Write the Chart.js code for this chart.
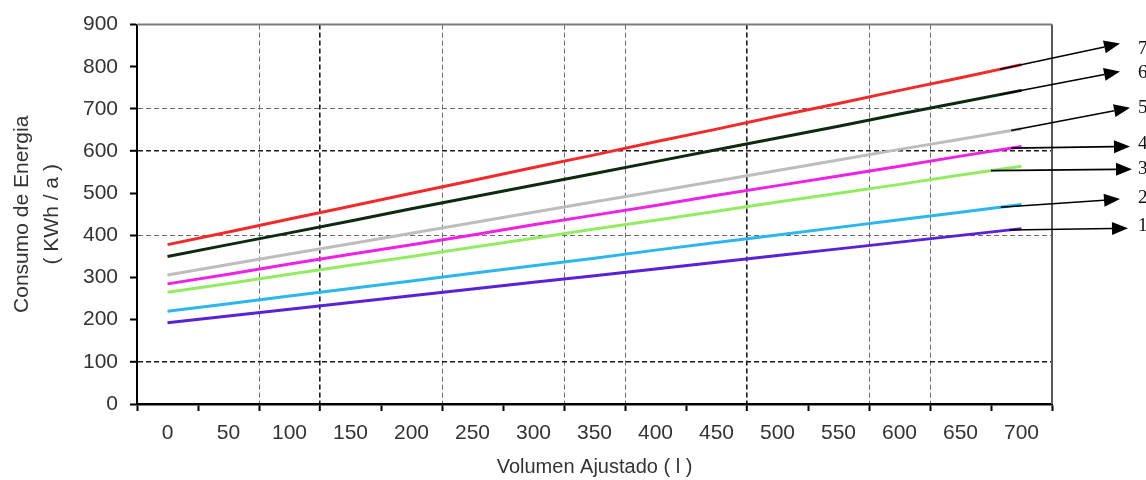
<!DOCTYPE html>
<html>
<head>
<meta charset="utf-8">
<script src="https://cdn.jsdelivr.net/npm/chart.js@4.4.1/dist/chart.umd.min.js"></script>
<style>
  html, body { margin: 0; padding: 0; background: #ffffff; }
  #wrap { width: 1146px; height: 480px; }
</style>
</head>
<body>
<div id="wrap"><canvas id="c" width="1146" height="480"></canvas></div>
<script>
// ---- data ----
const categories = ['0','50','100','150','200','250','300','350','400','450','500','550','600','650','700'];
const seriesNames = ['1','2','3','4','5','6','7'];
const serie1 = [193, 209, 225, 241, 257, 273, 289, 304, 320, 336, 352, 368, 384, 400, 416];
const serie2 = [220, 238, 256, 274, 292, 310, 328, 346, 365, 383, 401, 419, 437, 455, 473];
const serie3 = [265, 286, 308, 329, 350, 372, 393, 415, 436, 457, 479, 500, 521, 543, 564];
const serie4 = [285, 308, 332, 355, 378, 401, 425, 448, 471, 495, 518, 541, 564, 588, 611];
const serie5 = [306, 331, 356, 380, 405, 430, 455, 480, 504, 529, 554, 579, 604, 628, 653];
const serie6 = [350, 378, 406, 434, 463, 491, 519, 547, 575, 603, 631, 659, 688, 716, 744];
const serie7 = [378, 408, 439, 469, 500, 530, 561, 591, 622, 652, 683, 713, 744, 774, 805];
const yTicks = [0, 100, 200, 300, 400, 500, 600, 700, 800, 900];

// ---- styling / annotation placement ----
const seriesColors = ['#5a22d6', '#2bb6ee', '#92ec62', '#ee22e6', '#bdbdbd', '#0c2a0e', '#f42a2a'];
const calloutStartIdx = [13.8, 13.66, 13.5, 13.83, 13.83, 13.65, 13.65];
const calloutTipDx = [76, 68, 80, 78, 78, 68, 68];
const calloutTipVal = [417, 486, 557, 611, 703, 789, 855];
const calloutLabelVal = [423, 489, 558, 617, 703, 785, 843];
const xGridDark = [3, 10];
const xGridLight = [2, 5, 7, 8, 12, 13];
const yGridDark = [100, 600];
const yGridLight = [400, 700];

const allSeries = [serie1, serie2, serie3, serie4, serie5, serie6, serie7];

const framePlugin = {
  id: 'frame',
  beforeDatasetsDraw(chart) {
    const { ctx, chartArea: a } = chart;
    ctx.save();
    ctx.lineWidth = 2;
    ctx.strokeStyle = '#7c7c7c';
    ctx.beginPath();
    ctx.moveTo(a.left, a.top);
    ctx.lineTo(a.right, a.top);
    ctx.stroke();
    ctx.strokeStyle = '#5a5a5a';
    ctx.beginPath();
    ctx.moveTo(a.right, a.top);
    ctx.lineTo(a.right, a.bottom);
    ctx.stroke();
    ctx.restore();
  }
};

const calloutPlugin = {
  id: 'callouts',
  afterDraw(chart) {
    const { ctx, chartArea: a } = chart;
    const xs = chart.scales.x, ys = chart.scales.y;
    ctx.save();
    chart.data.datasets.forEach((ds, i) => {
      const idx = calloutStartIdx[i];
      const i0 = Math.floor(idx), f = idx - i0;
      const v = ds.data[i0] + f * (ds.data[i0 + 1] - ds.data[i0]);
      const x0 = xs.getPixelForValue(i0) + f * (xs.getPixelForValue(i0 + 1) - xs.getPixelForValue(i0));
      const y0 = ys.getPixelForValue(v);
      const x1 = a.right + calloutTipDx[i];
      const y1 = ys.getPixelForValue(calloutTipVal[i]);
      const ang = Math.atan2(y1 - y0, x1 - x0);
      const hl = 16, hw = 6.5;
      const bx = x1 - hl * Math.cos(ang), by = y1 - hl * Math.sin(ang);
      ctx.strokeStyle = '#000';
      ctx.lineWidth = 1.6;
      ctx.beginPath();
      ctx.moveTo(x0, y0);
      ctx.lineTo(bx, by);
      ctx.stroke();
      ctx.fillStyle = '#000';
      ctx.beginPath();
      ctx.moveTo(x1, y1);
      ctx.lineTo(bx + hw * Math.sin(ang), by - hw * Math.cos(ang));
      ctx.lineTo(bx - hw * Math.sin(ang), by + hw * Math.cos(ang));
      ctx.closePath();
      ctx.fill();
      ctx.font = '19px "Liberation Serif", "DejaVu Serif", serif';
      ctx.textBaseline = 'middle';
      ctx.textAlign = 'left';
      ctx.fillStyle = '#111';
      ctx.fillText(ds.label, 1138, ys.getPixelForValue(calloutLabelVal[i]));
    });
    ctx.restore();
  }
};

const tickFont = { family: '"Liberation Sans", Arial, sans-serif', size: 21 };

new Chart(document.getElementById('c'), {
  type: 'line',
  data: {
    labels: categories,
    datasets: allSeries.map((d, i) => ({
      label: seriesNames[i],
      data: d,
      borderColor: seriesColors[i],
      backgroundColor: seriesColors[i],
      borderWidth: 3,
      pointRadius: 0,
      tension: 0,
      fill: false
    }))
  },
  options: {
    responsive: false,
    animation: false,
    events: [],
    layout: { padding: { top: 24, right: 94, left: 0, bottom: 0 } },
    plugins: { legend: { display: false }, tooltip: { enabled: false } },
    scales: {
      x: {
        type: 'category',
        offset: true,
        afterFit: (s) => { s.height = 76; },
        grid: {
          offset: true,
          color: (c) => xGridDark.includes(c.index) ? '#1a1a1a' : (xGridLight.includes(c.index) ? '#6a6a6a' : 'rgba(0,0,0,0)'),
          lineWidth: (c) => xGridDark.includes(c.index) ? 1.6 : 1,
          tickColor: '#000',
          tickLength: 7,
          tickWidth: 2
        },
        border: { color: '#000', width: 2.5, dash: [5, 3] },
        ticks: { color: '#333', font: tickFont, padding: 10, maxRotation: 0, autoSkip: false },
        title: {
          display: true,
          text: 'Volumen Ajustado ( l )',
          color: '#333',
          font: { family: '"Liberation Sans", Arial, sans-serif', size: 20, lineHeight: 1.2 },
          padding: { top: 0, bottom: 1 }
        }
      },
      y: {
        min: 0,
        max: 900,
        afterFit: (s) => { s.width = 137; },
        afterBuildTicks: (s) => { s.ticks = yTicks.map(v => ({ value: v })); },
        grid: {
          color: (c) => (c.tick && yGridDark.includes(c.tick.value)) ? '#1a1a1a' : ((c.tick && yGridLight.includes(c.tick.value)) ? '#6a6a6a' : 'rgba(0,0,0,0)'),
          lineWidth: (c) => (c.tick && yGridDark.includes(c.tick.value)) ? 1.6 : 1,
          tickColor: '#000',
          tickLength: 7,
          tickWidth: 2
        },
        border: { color: '#000', width: 2, dash: [5, 3] },
        ticks: { color: '#333', font: tickFont, padding: 12 },
        title: {
          display: true,
          text: ['Consumo de Energia', '( KWh / a )'],
          color: '#333',
          font: { family: '"Liberation Sans", Arial, sans-serif', size: 21, lineHeight: 1.4 },
          padding: { top: 8, bottom: 0 }
        }
      }
    }
  },
  plugins: [framePlugin, calloutPlugin]
});
</script>
</body>
</html>
